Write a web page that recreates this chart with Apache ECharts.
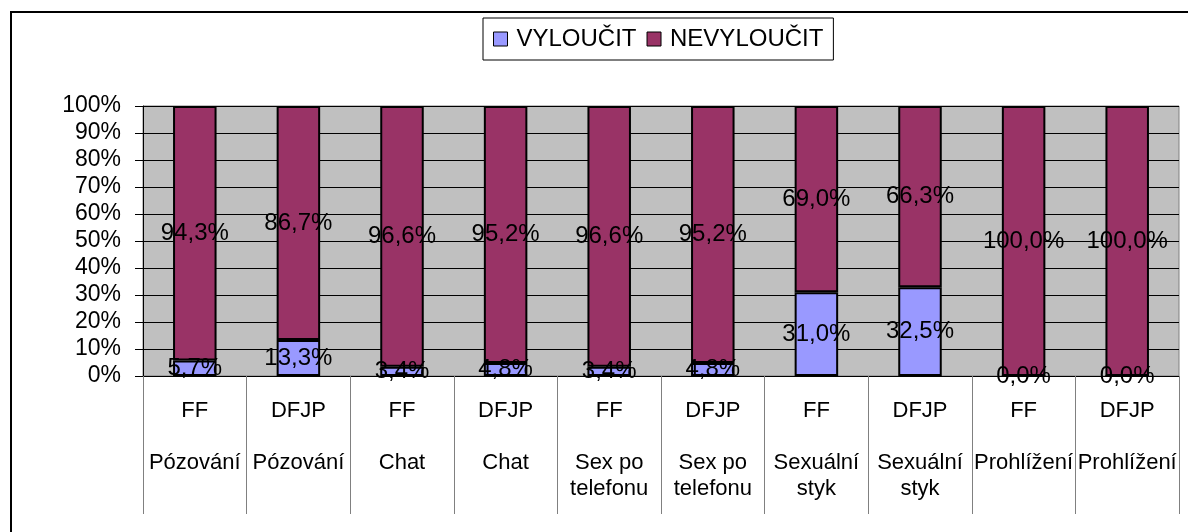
<!DOCTYPE html>
<html>
<head>
<meta charset="utf-8">
<script src="https://cdn.jsdelivr.net/npm/echarts@6/dist/echarts.min.js"></script>
<style>
  html, body { margin: 0; padding: 0; background: #fff; }
  #chart { width: 1188px; height: 532px; }
</style>
</head>
<body>
<div id="chart"></div>
<script>
// skupiny a aktivity (osa x má dva řádky)
var groups = ['FF', 'DFJP', 'FF', 'DFJP', 'FF', 'DFJP', 'FF', 'DFJP', 'FF', 'DFJP'];
var activities = ['Pózování', 'Pózování', 'Chat', 'Chat', 'Sex po\ntelefonu', 'Sex po\ntelefonu',
  'Sexuální\nstyk', 'Sexuální\nstyk', 'Prohlížení', 'Prohlížení'];

var vyloucit = [5.7, 13.3, 3.4, 4.8, 3.4, 4.8, 31.0, 32.5, 0.0, 0.0];
var nevyloucit = [94.3, 86.7, 96.6, 95.2, 96.6, 95.2, 69.0, 66.3, 100.0, 100.0];

var yTicks = [0, 10, 20, 30, 40, 50, 60, 70, 80, 90, 100];

var categories = groups.map(function (g, i) { return g + '\n\n' + activities[i]; });

// 100% skládaný graf - podíl z celku, popisek ukazuje původní hodnotu
function share(arr, i) {
  return arr[i] / (vyloucit[i] + nevyloucit[i]) * 100;
}
function fmt(v) { return v.toFixed(1).replace('.', ',') + '%'; }

var font = 'Liberation Sans, Arial, sans-serif';

var chart = echarts.init(document.getElementById('chart'));
chart.setOption({
  animation: false,
  textStyle: { fontFamily: font },
  graphic: [{
    type: 'rect',
    shape: { x: 11, y: 12, width: 1300, height: 700 },
    style: { fill: 'none', stroke: '#000', lineWidth: 2 },
    silent: true
  }],
  legend: {
    left: 483,
    top: 18,
    padding: [9, 10, 9, 10],
    itemGap: 10,
    itemWidth: 14,
    itemHeight: 14,
    icon: 'rect',
    borderColor: '#000',
    borderWidth: 1,
    textStyle: { fontSize: 24, color: '#000', fontFamily: font, padding: [0, 0, 0, 4] },
    itemStyle: { borderColor: '#000', borderWidth: 1 },
    data: ['VYLOUČIT', 'NEVYLOUČIT']
  },
  grid: {
    left: 143,
    right: 9,
    top: 106,
    bottom: 156,
    show: true,
    backgroundColor: '#c0c0c0',
    borderColor: '#808080',
    borderWidth: 1
  },
  xAxis: {
    type: 'category',
    data: categories,
    axisLine: { show: true, lineStyle: { color: '#000', width: 1 } },
    axisTick: { show: true, interval: 0, length: 138, lineStyle: { color: '#808080', width: 1 } },
    axisLabel: {
      interval: 0,
      margin: 22,
      fontSize: 22,
      lineHeight: 26,
      color: '#000',
      fontFamily: font
    },
    splitLine: { show: false }
  },
  yAxis: {
    type: 'value',
    min: yTicks[0],
    max: yTicks[yTicks.length - 1],
    interval: 10,
    axisLine: { show: true, lineStyle: { color: '#000' } },
    axisTick: { show: true, length: 8, lineStyle: { color: '#000' } },
    axisLabel: {
      fontSize: 23,
      color: '#000',
      margin: 22,
      fontFamily: font,
      formatter: '{value}%'
    },
    splitLine: { lineStyle: { color: '#000', width: 1 } }
  },
  series: [
    {
      name: 'VYLOUČIT',
      type: 'bar',
      stack: 'a',
      barWidth: '42%',
      data: vyloucit.map(function (v, i) { return { value: share(vyloucit, i), raw: v }; }),
      itemStyle: { color: '#9999ff', borderColor: '#000', borderWidth: 2 },
      label: {
        show: true,
        position: 'inside',
        fontSize: 24,
        color: '#000',
        fontFamily: font,
        formatter: function (p) { return fmt(p.data.raw); }
      }
    },
    {
      name: 'NEVYLOUČIT',
      type: 'bar',
      stack: 'a',
      barWidth: '42%',
      data: nevyloucit.map(function (v, i) { return { value: share(nevyloucit, i), raw: v }; }),
      itemStyle: { color: '#993366', borderColor: '#000', borderWidth: 2 },
      label: {
        show: true,
        position: 'inside',
        fontSize: 24,
        color: '#000',
        fontFamily: font,
        formatter: function (p) { return fmt(p.data.raw); }
      }
    }
  ]
});
</script>
</body>
</html>
